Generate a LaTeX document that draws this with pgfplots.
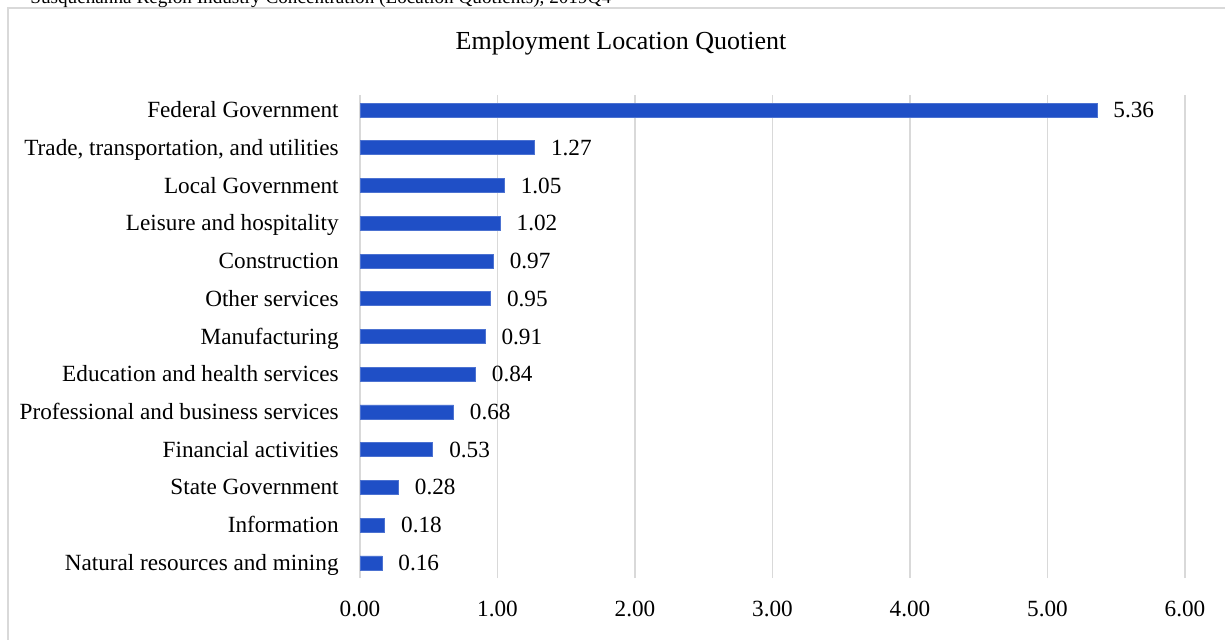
\documentclass[border=0pt]{standalone}
\usepackage{pgfplots}
\pgfplotsset{compat=1.18}
\usepackage{fontspec}
\setmainfont{Liberation Serif}

\definecolor{barblue}{HTML}{1F4FC6}
\definecolor{gridgray}{HTML}{D9D9D9}

\pgfplotstableread{
y val
0 0.16
1 0.18
2 0.28
3 0.53
4 0.68
5 0.84
6 0.91
7 0.95
8 0.97
9 1.02
10 1.05
11 1.27
12 5.36
}\lqdata

\begin{document}
\begin{tikzpicture}[x=0.5pt, y=-0.5pt]
  % page = 1225 x 639 px, 1 px = 0.5pt
  \path[use as bounding box] (0,0) rectangle (1225,639);
  \draw[gridgray, line width=1pt] (8,700) -- (8,8) -- (1240,8);
  \node[anchor=base west, font=\fontsize{9.6}{11}\selectfont, inner sep=0pt] at (30,3)
    {Susquehanna Region Industry Concentration (Location Quotients), 2019Q4};
  \node[font=\fontsize{13}{15}\selectfont] at (621,43) {Employment Location Quotient};

  \begin{axis}[
    at={(180pt,-289pt)}, anchor=south west,
    scale only axis,
    width=412.5pt, height=241.5pt,
    xbar, bar width=7pt,
    xmin=0, xmax=6,
    ymin=-0.4, ymax=12.4,
    axis line style={draw=none},
    major tick length=0pt,
    xmajorgrids,
    grid style={gridgray, line width=0.8pt},
    xtick={0,1,2,3,4,5,6},
    ytick={0,...,12},
    yticklabels={Natural resources and mining, Information, State Government,
      Financial activities, Professional and business services,
      Education and health services, Manufacturing, Other services,
      Construction, Leisure and hospitality, Local Government,
      {Trade, transportation, and utilities}, Federal Government},
    /pgf/number format/assume math mode=true,
    xticklabel style={anchor=base, inner sep=0pt, yshift=-19pt,
      /pgf/number format/fixed, /pgf/number format/fixed zerofill,
      /pgf/number format/precision=2},
    yticklabel style={anchor=east, inner sep=0pt, xshift=-10.5pt, yshift=-1pt,
      text height=1.5ex, text depth=0.3ex},
    tick label style={font=\fontsize{11.6}{13}\selectfont},
    nodes near coords,
    nodes near coords style={anchor=west, xshift=8pt, yshift=-1pt, inner sep=0pt,
      text height=1.5ex, text depth=0.3ex,
      font=\fontsize{11.6}{13}\selectfont,
      /pgf/number format/fixed, /pgf/number format/fixed zerofill,
      /pgf/number format/precision=2, /pgf/number format/assume math mode=true},
  ]
    \addplot[draw=barblue!80!white, fill=barblue] table[x=val, y=y] {\lqdata};
  \end{axis}
\end{tikzpicture}
\end{document}
